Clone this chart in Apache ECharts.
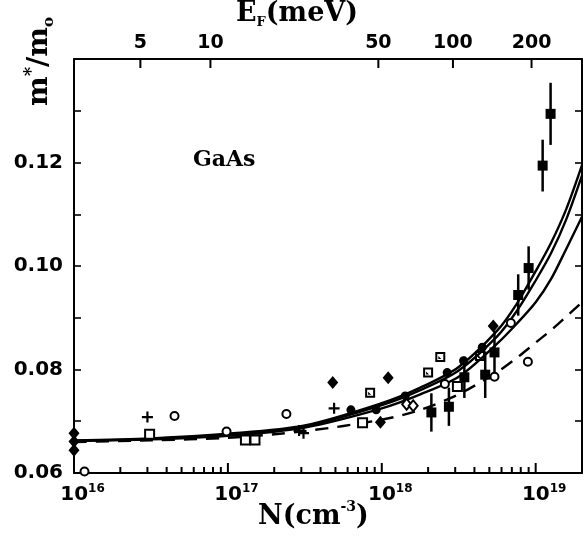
<!DOCTYPE html>
<html>
<head>
<meta charset="utf-8">
<script src="https://cdn.jsdelivr.net/npm/echarts@6/dist/echarts.min.js"></script>
<style>
  html, body { margin: 0; background: #fff; }
  #chart { width: 584px; height: 536px; }
</style>
</head>
<body>
<div id="chart"></div>
<script>
// === GaAs effective mass vs carrier density ===
const N_MIN = 1e16, N_MAX = 2e19;
const Y_MIN = 0.06, Y_MAX = 0.14;
const majorN = [1e16, 1e17, 1e18, 1e19];

// top axis: Fermi energy (meV) and the density where each tick sits
const efLabels = ['5', '10', '50', '100', '200'];
const efN = [2.7e16, 7.7e16, 9.5e17, 2.9e18, 9.4e18];

// theory curves, sampled at these densities
const curveN = [1e16, 3.16e16, 1e17, 3.16e17, 1e18, 1.78e18, 3.16e18, 5.62e18, 7.5e18, 1e19, 1.26e19, 1.58e19, 2e19];
const curveA = [0.0663, 0.0667, 0.0676, 0.0692, 0.0735, 0.0765, 0.0805, 0.0875, 0.0926, 0.0990, 0.1045, 0.1110, 0.1195];
const curveB = [0.0662, 0.0666, 0.0674, 0.0690, 0.0731, 0.0760, 0.0798, 0.0864, 0.0912, 0.0972, 0.1025, 0.1090, 0.1175];
const curveC = [0.0662, 0.0665, 0.0672, 0.0688, 0.0725, 0.0752, 0.0786, 0.0850, 0.0888, 0.0930, 0.0975, 0.1033, 0.1095];
const curveD = [0.0660, 0.0663, 0.0668, 0.0681, 0.0703, 0.0722, 0.0752, 0.0795, 0.0822, 0.0852, 0.0876, 0.0902, 0.0930];

// measured points [N, m*/m0]
const filledDiamond = [[1e16, 0.0677], [1e16, 0.0661], [1e16, 0.0644], [4.8e17, 0.0775], [1.1e18, 0.0784], [9.8e17, 0.0698], [5.3e18, 0.0884]];
const filledCircle = [[6.3e17, 0.0722], [9.2e17, 0.0722], [1.42e18, 0.0749], [2.66e18, 0.0794], [3.4e18, 0.0817], [4.5e18, 0.0843], [4.7e18, 0.0790]];
const openCircle = [[1.17e16, 0.0603], [4.5e16, 0.0710], [9.8e16, 0.0680], [2.4e17, 0.0714], [2.57e18, 0.0772], [5.4e18, 0.0786], [6.9e18, 0.0890], [8.9e18, 0.0815]];
const openSquare = [[3.1e16, 0.0675], [1.3e17, 0.0664], [1.5e17, 0.0664], [7.5e17, 0.0697], [3.1e18, 0.0767]];
const dotSquare = [[8.4e17, 0.0755], [2.0e18, 0.0794], [2.4e18, 0.0824], [4.35e18, 0.0826]];
const plusPts = [[3.0e16, 0.0708], [4.9e17, 0.0725], [2.9e17, 0.0682], [3.1e17, 0.0677]];
const openDiamond = [[1.45e18, 0.0733], [1.6e18, 0.0730]];

// filled squares with error bars
const sqN = [2.1e18, 2.73e18, 3.44e18, 4.7e18, 5.4e18, 7.7e18, 9.0e18, 1.11e19, 1.25e19];
const sqM = [0.0717, 0.0728, 0.0785, 0.0790, 0.0833, 0.0944, 0.0996, 0.1194, 0.1294];
const sqErr = [0.0037, 0.0037, 0.0040, 0.0045, 0.0042, 0.0040, 0.0042, 0.0050, 0.0060];

const lg = Math.log10;
const minorN = [];
for (let d = 16; d <= 19; d++) {
  for (let k = 2; k <= 9; k++) {
    if (k * Math.pow(10, d) < N_MAX) minorN.push(k * Math.pow(10, d));
  }
}
const efLog = efN.map(lg);

const TICK_FONT = 'DejaVu Sans';
const blk = '#000';

function pts(arr) { return arr.map(function (p) { return [lg(p[0]), p[1]]; }); }
function curve(ys) { return curveN.map(function (n, i) { return [lg(n), ys[i]]; }); }

const PLUS = 'path://M4,0 L6,0 L6,4 L10,4 L10,6 L6,6 L6,10 L4,10 L4,6 L0,6 L0,4 L4,4 Z';
const DOTSQ = 'path://M0,0 L10,0 L10,10 L0,10 Z M2,2 L2,8 L8,8 L8,2 Z M3,7 L3,4 L6,7 Z';

function lineSeries(ys, dashed) {
  return {
    type: 'line', data: curve(ys), smooth: 0.3, showSymbol: false, silent: true,
    lineStyle: { color: blk, width: 2.4, type: dashed ? [13, 9] : 'solid' }, z: 2
  };
}
function scatter(arr, symbol, size, empty) {
  return {
    type: 'scatter', data: pts(arr), symbol: symbol, symbolSize: size, clip: false, z: 5, silent: true,
    itemStyle: empty ? { color: blk, borderColor: blk, borderWidth: 2, opacity: 1 } : { color: blk, opacity: 1 }
  };
}
// tick marks on the N and E_F frames, pixel positions taken from the chart's x scale
function frameTicks() {
  const out = [];
  function add(id, n, atY, len) {
    const p = chart.convertToPixel({ gridIndex: 0 }, [lg(n), atY]);
    out.push({
      id: id, type: 'line', z: 100, silent: true,
      shape: { x1: p[0], y1: p[1], x2: p[0], y2: p[1] + len },
      style: { stroke: blk, lineWidth: 2 }
    });
  }
  majorN.forEach(function (n, i) { add('mj' + i, n, Y_MIN, -10); });
  minorN.forEach(function (n, i) { add('mn' + i, n, Y_MIN, -6); });
  efN.forEach(function (n, i) { add('ef' + i, n, Y_MAX, 9); });
  return out;
}

const chart = echarts.init(document.getElementById('chart'));
chart.setOption({
  animation: false,
  grid: { left: 74, right: 2, top: 59, bottom: 63 },
  xAxis: [
    {
      type: 'value', min: lg(N_MIN), max: lg(N_MAX), interval: 1, position: 'bottom',
      axisLine: { lineStyle: { color: blk, width: 2 } },
      axisTick: { show: false },
      axisLabel: {
        margin: 10, color: blk, showMaxLabel: false,
        formatter: function (v) {
          if (Math.abs(v - Math.round(v)) > 1e-6) return '';
          return '{sp|}{b|10}{sup|' + Math.round(v) + '}';
        },
        rich: {
          sp: { width: 17 },
          b: { fontFamily: TICK_FONT, fontWeight: 'bold', fontSize: 20, color: blk, lineHeight: 24 },
          sup: { fontFamily: TICK_FONT, fontWeight: 'bold', fontSize: 12, color: blk, verticalAlign: 'top', lineHeight: 12 }
        }
      },
      splitLine: { show: false }
    },
    {
      type: 'value', min: lg(N_MIN), max: lg(N_MAX), position: 'top',
      axisLine: { lineStyle: { color: blk, width: 2 } },
      axisTick: { show: false },
      axisLabel: {
        customValues: efLog, margin: 6, color: blk,
        fontFamily: TICK_FONT, fontWeight: 'bold', fontSize: 19,
        formatter: function (v) {
          const i = efLog.findIndex(function (t) { return Math.abs(t - v) < 1e-6; });
          return i < 0 ? '' : efLabels[i];
        }
      },
      splitLine: { show: false }
    }
  ],
  yAxis: [
    {
      type: 'value', min: Y_MIN, max: Y_MAX, interval: 0.02, position: 'left',
      axisLine: { lineStyle: { color: blk, width: 2 } },
      axisTick: { inside: true, length: 7, lineStyle: { color: blk, width: 1.6 } },
      minorTick: { show: true, splitNumber: 2, length: 7, lineStyle: { color: blk, width: 1.6 } },
      axisLabel: {
        margin: 11, color: blk, fontFamily: TICK_FONT, fontWeight: 'bold', fontSize: 20,
        formatter: function (v) { return v > 0.139 ? '' : v.toFixed(2); }
      },
      splitLine: { show: false }, minorSplitLine: { show: false }
    },
    {
      type: 'value', min: Y_MIN, max: Y_MAX, interval: 0.01, position: 'right',
      axisLine: { lineStyle: { color: blk, width: 2 } },
      axisTick: { inside: true, length: 7, lineStyle: { color: blk, width: 1.6 } },
      axisLabel: { show: false }, splitLine: { show: false }
    }
  ],
  graphic: [
    {
      id: 'gaas', type: 'text', left: 193, top: 149,
      style: { text: 'GaAs', font: 'bold 22px "DejaVu Serif"', fill: blk }
    },
    {
      id: 'ef', type: 'text', left: 236, top: 0,
      style: {
        text: '{b|E}{s|F}{b|(meV)}', fill: blk,
        rich: {
          b: { font: 'bold 27px "DejaVu Serif"', fill: blk, lineHeight: 32 },
          s: { font: 'bold 13px "DejaVu Serif"', fill: blk, verticalAlign: 'bottom', lineHeight: 13 }
        }
      }
    },
    {
      id: 'nt', type: 'text', left: 258, top: 500,
      style: {
        text: '{b|N(cm}{s|-3}{b|)}', fill: blk,
        rich: {
          b: { font: 'bold 27px "DejaVu Serif"', fill: blk, lineHeight: 34 },
          s: { font: 'bold 14px "DejaVu Serif"', fill: blk, verticalAlign: 'top', lineHeight: 14 }
        }
      }
    },
    {
      id: 'mt', type: 'text', x: 23, y: 106, rotation: Math.PI / 2,
      style: {
        text: '{b|m}{s|*}{b|/m}{o|o}', fill: blk,
        rich: {
          b: { font: 'bold 28px "DejaVu Serif"', fill: blk, lineHeight: 34 },
          s: { font: 'bold 18px "DejaVu Serif"', fill: blk, verticalAlign: 'top', lineHeight: 16 },
          o: { font: 'bold 15px "DejaVu Serif"', fill: blk, verticalAlign: 'bottom', lineHeight: 15 }
        }
      }
    }
  ],
  series: [
    lineSeries(curveA, false),
    lineSeries(curveB, false),
    lineSeries(curveC, false),
    lineSeries(curveD, true),
    {
      type: 'custom', z: 4, clip: false, silent: true,
      data: sqN.map(function (n, i) { return [lg(n), sqM[i], sqErr[i]]; }),
      renderItem: function (params, api) {
        const x = api.value(0), y = api.value(1), e = api.value(2);
        const p1 = api.coord([x, y - e]), p2 = api.coord([x, y + e]);
        return {
          type: 'line', shape: { x1: p1[0], y1: p1[1], x2: p2[0], y2: p2[1] },
          style: { stroke: blk, lineWidth: 2.5 }
        };
      }
    },
    scatter(sqN.map(function (n, i) { return [n, sqM[i]]; }), 'rect', 10, false),
    scatter(filledDiamond, 'diamond', [11, 13], false),
    scatter(filledCircle, 'circle', 9, false),
    scatter(openCircle, 'emptyCircle', 8, true),
    scatter(openSquare, 'emptyRect', 9, true),
    scatter(dotSquare, DOTSQ, 10, false),
    scatter(plusPts, PLUS, 11, false),
    scatter(openDiamond, 'emptyDiamond', [9, 11], true)
  ]
});
chart.setOption({ graphic: frameTicks() });
</script>
</body>
</html>
